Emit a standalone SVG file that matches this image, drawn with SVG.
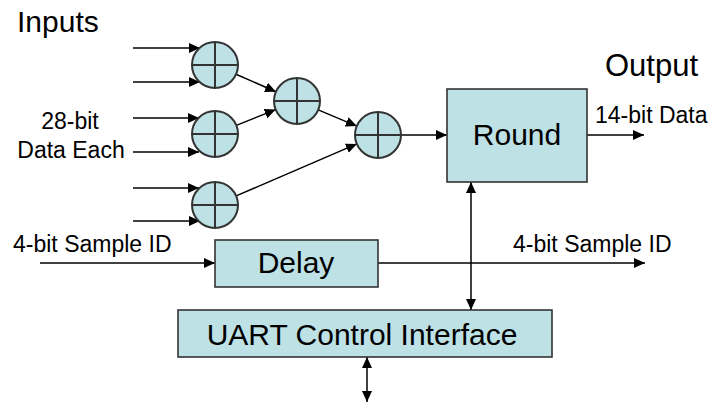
<svg xmlns="http://www.w3.org/2000/svg" width="708" height="403" viewBox="0 0 708 403">
  <style>
    .adder circle { fill: #bde1e5; stroke: #333333; stroke-width: 2; }
    .adder line { stroke: #333333; stroke-width: 2; }
    .block rect { fill: #bde1e5; stroke: #333333; stroke-width: 1.6; }
    .wire { stroke: #000000; stroke-width: 1.5; fill: none; }
    .arrow { marker-end: url(#head); }
    .both { marker-start: url(#head); marker-end: url(#head); }
    text { font-family: "Liberation Sans", Arial, sans-serif; fill: #000000; }
    .big { font-size: 30px; }
    .lbl { font-size: 23px; }
  </style>
  <defs>
    <marker id="head" markerUnits="userSpaceOnUse" markerWidth="12" markerHeight="10" refX="11" refY="5" orient="auto-start-reverse">
      <path d="M0,0 L11,5 L0,10 Z" fill="#000000"/>
    </marker>
  </defs>

  <!-- headings and port labels -->
  <text class="big" x="17" y="32" font-size="29">Inputs</text>
  <text class="big" x="605" y="76" style="font-size:31px">Output</text>
  <text class="lbl" x="70" y="129" text-anchor="middle">28-bit</text>
  <text class="lbl" x="71" y="158" text-anchor="middle">Data Each</text>
  <text class="lbl" x="595" y="123">14-bit Data</text>
  <text class="lbl" x="13" y="252">4-bit Sample ID</text>
  <text class="lbl" x="513" y="252">4-bit Sample ID</text>

  <!-- connectors -->
  <g id="connectors">
    <line class="wire arrow" x1="133" y1="48" x2="200" y2="48"/>
    <line class="wire arrow" x1="133" y1="82" x2="200" y2="82"/>
    <line class="wire arrow" x1="133" y1="118" x2="199" y2="118"/>
    <line class="wire arrow" x1="133" y1="152" x2="199" y2="152"/>
    <line class="wire arrow" x1="133" y1="188" x2="199" y2="188"/>
    <line class="wire arrow" x1="133" y1="221" x2="200" y2="221"/>
    <line class="wire arrow" x1="236" y1="74.2" x2="276" y2="91.8"/>
    <line class="wire arrow" x1="236.3" y1="125.4" x2="275.7" y2="109.6"/>
    <line class="wire arrow" x1="318.2" y1="109.9" x2="356.8" y2="126.1"/>
    <line class="wire arrow" x1="236.1" y1="195.9" x2="356.9" y2="143.9"/>
    <line class="wire arrow" x1="401" y1="135" x2="447" y2="135"/>
    <line class="wire arrow" x1="587" y1="135" x2="644" y2="135"/>
    <line class="wire arrow" x1="40" y1="263" x2="215" y2="263"/>
    <line class="wire arrow" x1="378" y1="263" x2="645" y2="263"/>
    <line class="wire both" x1="471" y1="182" x2="471" y2="310"/>
    <line class="wire both" x1="367" y1="357" x2="367" y2="402"/>
  </g>

  <!-- first-stage adders -->
  <g id="add1" class="adder">
    <circle cx="215" cy="65" r="23"/>
    <line x1="192" y1="65" x2="238" y2="65"/>
    <line x1="215" y1="42" x2="215" y2="88"/>
  </g>
  <g id="add2" class="adder">
    <circle cx="215" cy="134" r="23"/>
    <line x1="192" y1="134" x2="238" y2="134"/>
    <line x1="215" y1="111" x2="215" y2="157"/>
  </g>
  <g id="add3" class="adder">
    <circle cx="215" cy="205" r="23"/>
    <line x1="192" y1="205" x2="238" y2="205"/>
    <line x1="215" y1="182" x2="215" y2="228"/>
  </g>
  <!-- second and third stage adders -->
  <g id="add4" class="adder">
    <circle cx="297" cy="101" r="23"/>
    <line x1="274" y1="101" x2="320" y2="101"/>
    <line x1="297" y1="78" x2="297" y2="124"/>
  </g>
  <g id="add5" class="adder">
    <circle cx="378" cy="135" r="23"/>
    <line x1="355" y1="135" x2="401" y2="135"/>
    <line x1="378" y1="112" x2="378" y2="158"/>
  </g>

  <!-- blocks -->
  <g id="round" class="block">
    <rect x="447" y="89" width="140" height="93"/>
    <text class="big" x="517" y="145" text-anchor="middle">Round</text>
  </g>
  <g id="delay" class="block">
    <rect x="215" y="240" width="163" height="47"/>
    <text class="big" x="296" y="273" text-anchor="middle">Delay</text>
  </g>
  <g id="uart" class="block">
    <rect x="178" y="310" width="374" height="47"/>
    <text class="big" x="362" y="345" text-anchor="middle">UART Control Interface</text>
  </g>
</svg>
